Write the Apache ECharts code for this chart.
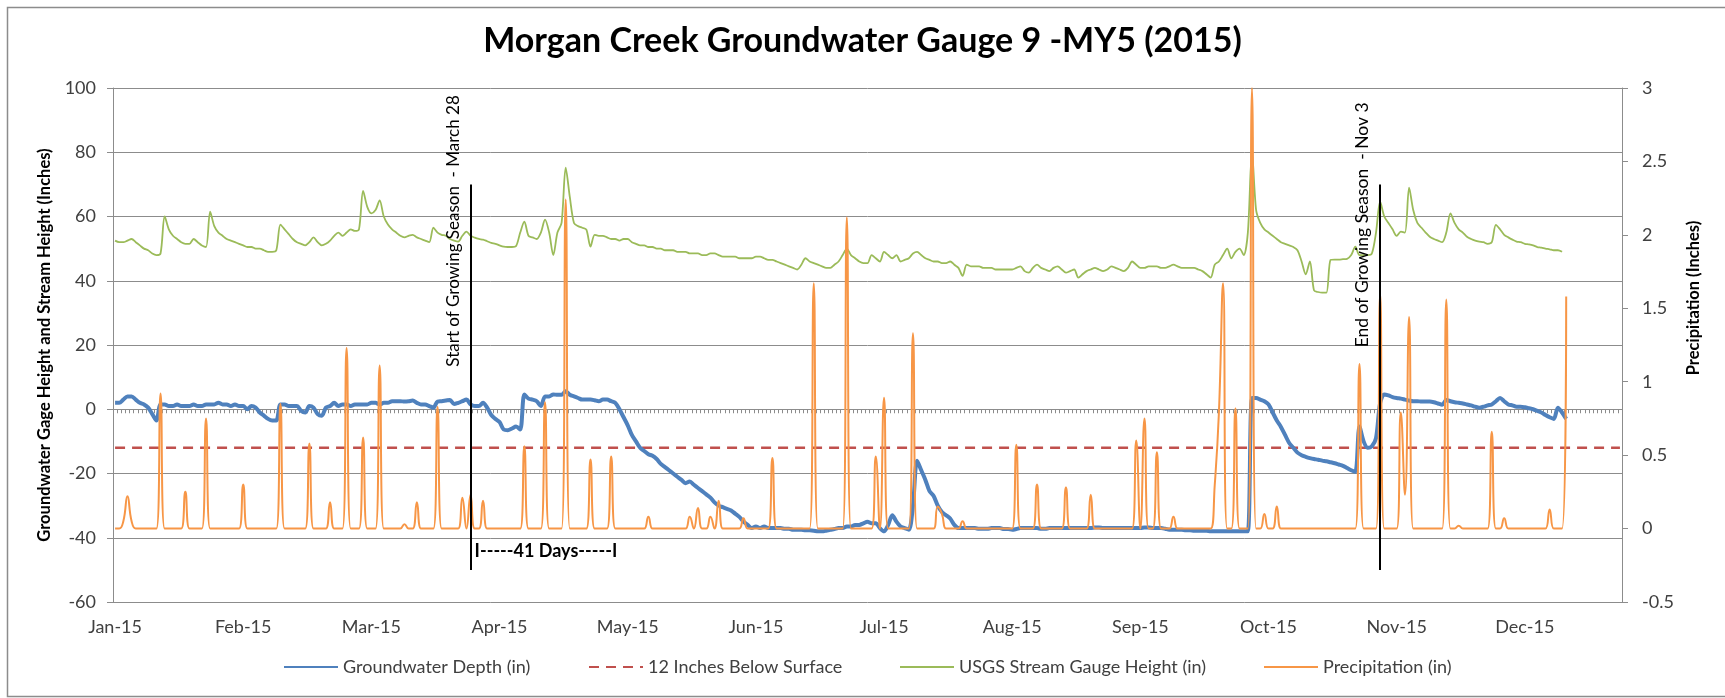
<!DOCTYPE html>
<html><head><meta charset="utf-8">
<script src="https://cdn.jsdelivr.net/npm/echarts@6/dist/echarts.min.js"></script>
<style>html,body{margin:0;padding:0;background:#fff}#c{width:1725px;height:698px}</style>
</head><body><div id="c"></div>
<script>
// ---------- data ----------
const monthLabels = ['Jan-15','Feb-15','Mar-15','Apr-15','May-15','Jun-15','Jul-15','Aug-15','Sep-15','Oct-15','Nov-15','Dec-15'];
const dayCount = 365; // Jan 1 2015 .. Dec 31 2015
const categories = [];
for (let i = 0; i < dayCount; i++) {
  const d = new Date(Date.UTC(2015, 0, 1 + i));
  categories.push(d.toISOString().slice(0, 10));
}
const groundwater = [
 2,2,3,4,4,3,2,1.5,0.5,-1.5,
 -3.5,1.5,1.5,1,1,1.5,1,1,1,1.5,
 1,1,1.5,1.5,1.5,2,1.5,1.5,1,1.5,
 1,1,0,1,0.5,-1,-2,-3,-3.5,-3.5,
 1.5,1.5,1,1,1,-0.5,-1,1,0.5,-1.5,
 -2,0.5,1,2,1,1.5,1.5,1,1.5,1.5,
 1.5,1.5,2,2,1.5,2,2,2.5,2.5,2.5,
 2.4,2.5,2.7,2,1.5,1.5,1,0.5,2.4,2.5,
 2.7,2.9,1.6,2,2.5,3,1.5,1,1,2,
 0.5,-1.8,-3,-4,-6.3,-6.5,-6,-5.4,-6.3,4.6,
 3.3,3,2.5,1,4,4,4.6,4.5,4.5,5.6,
 4.5,4,3.5,3,3,3,2.8,2.5,3,3,
 2.5,2,0,-2.5,-5,-8,-10,-12,-13,-14,
 -14.5,-15.5,-17,-18,-19,-20,-21,-22,-23,-22.5,
 -23.5,-24.5,-25.5,-26.5,-27.5,-29,-30,-30.5,-31,-31.5,
 -32.5,-33.5,-35,-36,-37,-36.5,-37,-36.5,-37,-37,
 -37,-37,-37.2,-37.2,-37.5,-37.5,-37.5,-37.7,-37.7,-37.8,
 -38,-38,-37.8,-37.5,-37.3,-37,-37,-36.5,-36.5,-36,
 -36,-35.5,-35,-35.5,-35.5,-37,-38,-36,-33,-35,
 -36.5,-37,-37.5,-30,-16,-19,-22,-25.5,-27,-30,
 -32,-33,-34,-36,-37,-37,-37,-37,-37,-37.2,
 -37.2,-37.2,-37,-37,-37,-37.3,-37.3,-37.5,-37.3,-37,
 -37,-37,-37,-37,-37.2,-37.2,-37,-37,-37,-37,
 -37,-37,-37,-37,-37,-37,-37,-36.8,-36.8,-37,
 -37,-37,-37,-37,-37,-37,-37,-37,-37,-36.8,
 -36.8,-37,-37,-37,-37.2,-37.5,-37.5,-37.5,-37.5,-37.7,
 -37.7,-37.8,-37.8,-37.8,-37.8,-38,-38,-38,-38,-38,
 -38,-38,-38,-38,-38,3.5,3.5,3,2.5,1.5,
 -1,-3.5,-5.5,-8,-10.5,-12,-13.5,-14.3,-14.8,-15.2,
 -15.5,-15.7,-16,-16.2,-16.5,-16.8,-17.2,-17.6,-18.3,-19,
 -19.5,-5.4,-10,-12,-11.5,-9,2,4.6,4.3,3.8,
 3.5,3.3,3,2.7,2.5,2.5,2.4,2.4,2.4,2.2,
 1.8,1.4,2.9,2.5,2.2,2,1.8,1.5,1.2,0.8,
 0.5,0.8,1.2,1.5,2.5,3.5,2.5,1.5,1.2,0.8,
 0.8,0.6,0.3,0,-0.5,-1,-1.8,-2.5,-3,0.5,
 -1,-3
];
const streamGauge = [
 52.5,52,52,52.5,53,52,51,50,49.5,48.5,
 48,48.5,60,56,54,53,52,51.5,51.5,53,
 52,51,50.5,61.5,57,55,54,53,52.5,52,
 51.5,51,50.5,50.5,50,50,49.5,49,49,49.5,
 57.5,56,54.5,53,52,51.5,51,52,53.5,52,
 51,51.5,52.5,54,55,54,55,56,55.5,56,
 68,63,61,62,65,60,57.5,56,55,54,
 53.5,54,54.3,53.5,53,52.5,52,56.5,55,54.3,
 54,53,52.5,52.2,54,55.3,54,53.4,53,52.8,
 52.3,51.8,51.5,51,50.6,50.5,50.5,50.8,55,58.4,
 54,53.5,53,55,59,55,48,55,58,75.2,
 66,58,57,56.5,55.9,50.6,54.3,54,54,53.5,
 53,53,52.5,53,53,52,51.5,51,51,50.5,
 50.5,50,50,49.5,49.5,49.5,49,49,49,48.5,
 48.5,48.5,48,48,48.5,48.5,48,47.5,47.5,47.5,
 47.5,47,47,47,47,47.5,47.5,47,46.5,46.5,
 46,45.5,45,44.5,44,43.5,45,47,46,45.5,
 45,44.5,44,44,45,46,48,50,48,47,
 46,45.5,45.5,48,47,46,49,48,47,48,
 46,46.5,47,48.5,49,48,47,46.5,46,46,
 45.5,45.5,46,45,44,41.5,45,44.5,44.5,44.5,
 44,44,44,43.5,43.5,43.5,43.5,43.5,44,44.5,
 43,42.5,44,45,44,43.5,43,44,44.5,43.5,
 42.5,43,43.5,41,42,43,43.5,44,43.5,43,
 43.5,44.5,44,43.5,43,44,46,45,44,44,
 44.5,44.5,44.5,44,44,44.5,45,44.5,44,44,
 44,44,43.5,43,42,41,45,46,48,50,
 47,49,50,48,55,80,62,58,56,55,
 54,53,52,51.5,51,50.5,49.5,46,42,46,
 37,36.5,36.3,36.3,46.5,46.6,46.6,46.7,46.8,48,
 50.6,48,48,48,48.5,55,64.6,60,58,56,
 54,55.3,55,69,62,58,56.5,55,53.7,53,
 52.5,52,55,61,58,56,55,53.7,53,52.5,
 52.2,52,51.5,52,57.4,56,54.3,53.5,52.8,52.2,
 52,51.5,51.3,51,50.5,50.3,50,49.8,49.5,49.5,
 49
];
const precipitation = [
 0,0,0.05,0.22,0.05,0,0,0,0,0,
 0,0.92,0,0,0,0,0,0.25,0,0,
 0,0,0.75,0,0,0,0,0,0,0,
 0,0.3,0,0,0,0,0,0,0,0,
 0.85,0,0,0,0,0,0,0.58,0,0,
 0,0,0.18,0,0,0,1.23,0,0,0,
 0.62,0,0,0,1.11,0,0,0,0,0,
 0.03,0,0,0.18,0,0,0,0,0.83,0,
 0,0,0,0,0.21,0,0.23,0,0,0.19,
 0,0,0,0,0,0,0,0,0,0.56,
 0,0,0,0,0.86,0,0,0,0,2.24,
 0,0,0,0,0,0.47,0,0,0,0,
 0.49,0,0,0,0,0,0,0,0,0.08,
 0,0,0,0,0,0,0,0,0,0.08,
 0,0.14,0,0,0.08,0,0.19,0,0,0,
 0,0,0.07,0,0,0,0,0,0,0.48,
 0,0,0,0,0,0,0,0,0,1.67,
 0,0,0,0,0,0,0,2.12,0,0,
 0,0,0,0,0.49,0,0.89,0,0,0,
 0,0,0,1.33,0,0,0,0,0,0.15,
 0.1,0,0,0,0,0.05,0,0,0,0,
 0,0,0,0,0,0,0,0,0.57,0,
 0,0,0,0.3,0,0,0,0,0,0,
 0.28,0,0,0,0,0,0.23,0,0,0,
 0,0,0,0,0,0,0,0.6,0,0.75,
 0,0,0.52,0,0,0,0.08,0,0,0,
 0,0,0,0,0,0,0.3,0.79,1.67,0,
 0,0.82,0,0,0,3.0,0,0,0.1,0,
 0,0.15,0,0,0,0,0,0,0,0,
 0,0,0,0,0,0,0,0,0,0,
 0,1.12,0,0,0,0,1.6,0,0,0,
 0,0.79,0.23,1.44,0,0,0,0,0,0,
 0,0,1.56,0,0,0.02,0,0,0,0,
 0,0,0,0.66,0,0,0.07,0,0,0,
 0,0,0,0,0,0,0,0.13,0,0,
 0,1.58
];
const thresholdDepth = -12;
const seasonStartIdx = 86;   // March 28
const seasonEndIdx = 306;    // Nov 3
const seasonLineTop = 70, seasonLineBottom = -50;

const seriesNames = ['Groundwater Depth (in)','12 Inches Below Surface','USGS Stream Gauge Height (in)','Precipitation (in)'];
const FONT = 'Lato, "Open Sans", sans-serif';
const GRID = '#8c8c8c';

const chart = echarts.init(document.getElementById('c'), null, {renderer: 'canvas'});
const legendStarts = [278, 583, 894, 1258];
chart.setOption({
  animation: false,
  backgroundColor: '#fff',
  textStyle: {fontFamily: FONT},
  title: {
    text: 'Morgan Creek Groundwater Gauge 9 -MY5 (2015)',
    left: 'center', top: 19,
    textStyle: {fontFamily: FONT, fontSize: 34, fontWeight: 'bold', color: '#000'}
  },
  graphic: [{
    type: 'rect', left: 5, top: 5, silent: true,
    shape: {width: 1740, height: 689},
    style: {fill: 'none', stroke: '#8c8c8c', lineWidth: 1.5}
  }],
  legend: seriesNames.map((n, i) => ({
    data: [n], left: legendStarts[i], top: 653,
    itemWidth: 54, itemHeight: 4, itemGap: 0,
    itemStyle: {opacity: 0},
    textStyle: {fontFamily: FONT, fontSize: 18, color: '#404040'}
  })),
  grid: {left: 113, right: 103, top: 88, bottom: 96, containLabel: false},
  xAxis: [{
    type: 'category', data: categories, boundaryGap: true,
    axisLine: {onZero: true, onZeroAxisIndex: 0, lineStyle: {color: GRID, width: 1}},
    axisTick: {show: true, interval: 0, length: 4, lineStyle: {color: GRID}},
    axisLabel: {show: false}, splitLine: {show: false}
  }, {
    type: 'category', data: categories, boundaryGap: true, position: 'bottom',
    axisLine: {show: false, onZero: false}, axisTick: {show: false},
    axisLabel: {show: true, interval: 30, margin: 16, fontSize: 18, color: '#404040', fontFamily: FONT,
      formatter: (v, idx) => monthLabels[Math.round(idx / 31)]},
    splitLine: {show: false}
  }],
  yAxis: [{
    type: 'value', min: -60, max: 100, interval: 20, position: 'left',
    name: 'Groundwater Gage Height and Stream Height (Inches)',
    nameLocation: 'middle', nameRotate: 90, nameGap: 60,
    nameTextStyle: {fontFamily: FONT, fontSize: 16.5, fontWeight: 'bold', color: '#000'},
    axisLine: {show: true, lineStyle: {color: GRID}},
    axisTick: {show: true, length: 6, lineStyle: {color: GRID}},
    axisLabel: {fontSize: 18, color: '#404040', margin: 17, fontFamily: FONT},
    splitLine: {show: true, lineStyle: {color: GRID, width: 1}}
  }, {
    type: 'value', min: -0.5, max: 3, interval: 0.5, position: 'right',
    name: 'Precipitation (Inches)',
    nameLocation: 'middle', nameRotate: 90, nameGap: 62,
    nameTextStyle: {fontFamily: FONT, fontSize: 16.5, fontWeight: 'bold', color: '#000', padding: [0, 0, 0, 94]},
    axisLine: {show: true, lineStyle: {color: GRID}},
    axisTick: {show: true, length: 6, lineStyle: {color: GRID}},
    axisLabel: {fontSize: 18, color: '#404040', margin: 20, fontFamily: FONT},
    splitLine: {show: false}
  }],
  series: [{
    name: seriesNames[0], type: 'line', xAxisIndex: 0, yAxisIndex: 0,
    data: groundwater, symbol: 'none', smooth: 0.3, z: 3,
    lineStyle: {color: '#4F81BD', width: 4}, itemStyle: {color: '#4F81BD'},
    markLine: {
      silent: true, symbol: 'none', z: 10,
      lineStyle: {color: '#000', width: 2, type: 'solid'},
      label: {show: false},
      data: [
        [{coord: [categories[seasonStartIdx], seasonLineTop]}, {coord: [categories[seasonStartIdx], seasonLineBottom]}],
        [{coord: [categories[seasonEndIdx], seasonLineTop]}, {coord: [categories[seasonEndIdx], seasonLineBottom]}]
      ]
    },
    markPoint: {
      silent: true, symbol: 'circle', symbolSize: 0, z: 10,
      data: [{
        coord: [categories[seasonStartIdx], 55.5],
        label: {show: true, formatter: 'Start of Growing Season  - March 28', rotate: 90, offset: [0, -17],
          fontFamily: FONT, fontSize: 17, color: '#000'}
      }, {
        coord: [categories[seasonEndIdx], 57.4],
        label: {show: true, formatter: 'End of Growing Season  - Nov 3', rotate: 90, offset: [0, -18],
          fontFamily: FONT, fontSize: 17.5, color: '#000'}
      }, {
        coord: [categories[seasonStartIdx], -44.3],
        label: {show: true, formatter: 'I-----41 Days-----I', position: 'right', distance: 4,
          fontFamily: FONT, fontSize: 18, fontWeight: 'bold', color: '#000'}
      }]
    }
  }, {
    name: seriesNames[1], type: 'line', xAxisIndex: 0, yAxisIndex: 0,
    data: [[categories[0], thresholdDepth], [categories[dayCount - 1], thresholdDepth]],
    symbol: 'none', z: 2,
    lineStyle: {color: '#C0504D', width: 2.5, type: [10, 7]}, itemStyle: {color: '#C0504D'}
  }, {
    name: seriesNames[2], type: 'line', xAxisIndex: 0, yAxisIndex: 0,
    data: streamGauge, symbol: 'none', smooth: 0.3, z: 2,
    lineStyle: {color: '#9BBB59', width: 1.8}, itemStyle: {color: '#9BBB59'}
  }, {
    name: seriesNames[3], type: 'line', xAxisIndex: 0, yAxisIndex: 1,
    data: precipitation, symbol: 'none', smooth: 0.5, z: 4,
    lineStyle: {color: '#F79646', width: 2}, itemStyle: {color: '#F79646'}
  }]
});
</script>
</body></html>
